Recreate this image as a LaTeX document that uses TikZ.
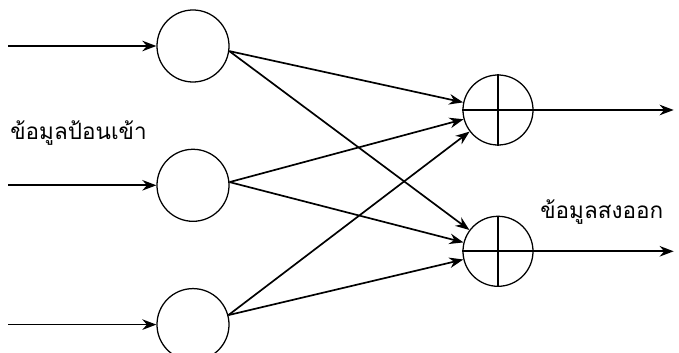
\documentclass[tikz,border=0pt]{standalone}
\usepackage{fontspec}
\newfontfamily\thaifont[Script=Thai]{Loma}
\usetikzlibrary{arrows.meta, positioning}

\begin{document}
\begin{tikzpicture}[
    x=0.025cm, y=-0.025cm,
    >={Stealth[length=10pt, width=7.5pt]},
    innode/.style={draw, circle, minimum size=1.8cm, line width=0.9pt},
    outnode/.style={draw, circle, minimum size=1.75cm, line width=0.9pt},
    link/.style={->, line width=1.2pt},
    lbl/.style={font=\thaifont\fontsize{16}{18}\selectfont, inner sep=0pt}
  ]
  \useasboundingbox (0,0) rectangle (679,353);

  \node[innode] (i1) at (193,46) {};
  \node[innode, below=1.65cm of i1] (i2) {};
  \node[innode, below=1.65cm of i2] (i3) {};
  \node[outnode] (o1) at (498,110) {};
  \node[outnode, below=1.75cm of o1] (o2) {};

  \coordinate[left=3.7cm of i1.west] (s1);
  \coordinate[left=3.7cm of i2.west] (s2);
  \coordinate[left=3.7cm of i3.west] (s3);
  \coordinate[right=3.5cm of o1.east] (e1);
  \coordinate[right=3.5cm of o2.east] (e2);

  \draw[link] (s1) -- (i1);
  \draw[link] (s2) -- (i2);
  \draw[link] (s3) -- (i3);

  \draw[link] (i1.-8) -- (o1);
  \draw[link] (i1.-8) -- (o2);
  \draw[link] (i2.5) -- (o1);
  \draw[link] (i2.5) -- (o2);
  \draw[link] (i3.15) -- (o1);
  \draw[link] (i3.15) -- (o2);

  \draw[line width=0.9pt] (o1.north) -- (o1.south);
  \draw[line width=0.9pt] (o2.north) -- (o2.south);
  \draw[link] (o1.west) -- (e1);
  \draw[link] (o2.west) -- (e2);

  \node[lbl, anchor=west] (inlbl) at (10,133) {ข้อมูลป้อนเข้า};
  \node[lbl, anchor=west] (outlbl) at (540,212) {ข้อมูลสงออก};
\end{tikzpicture}
\end{document}
